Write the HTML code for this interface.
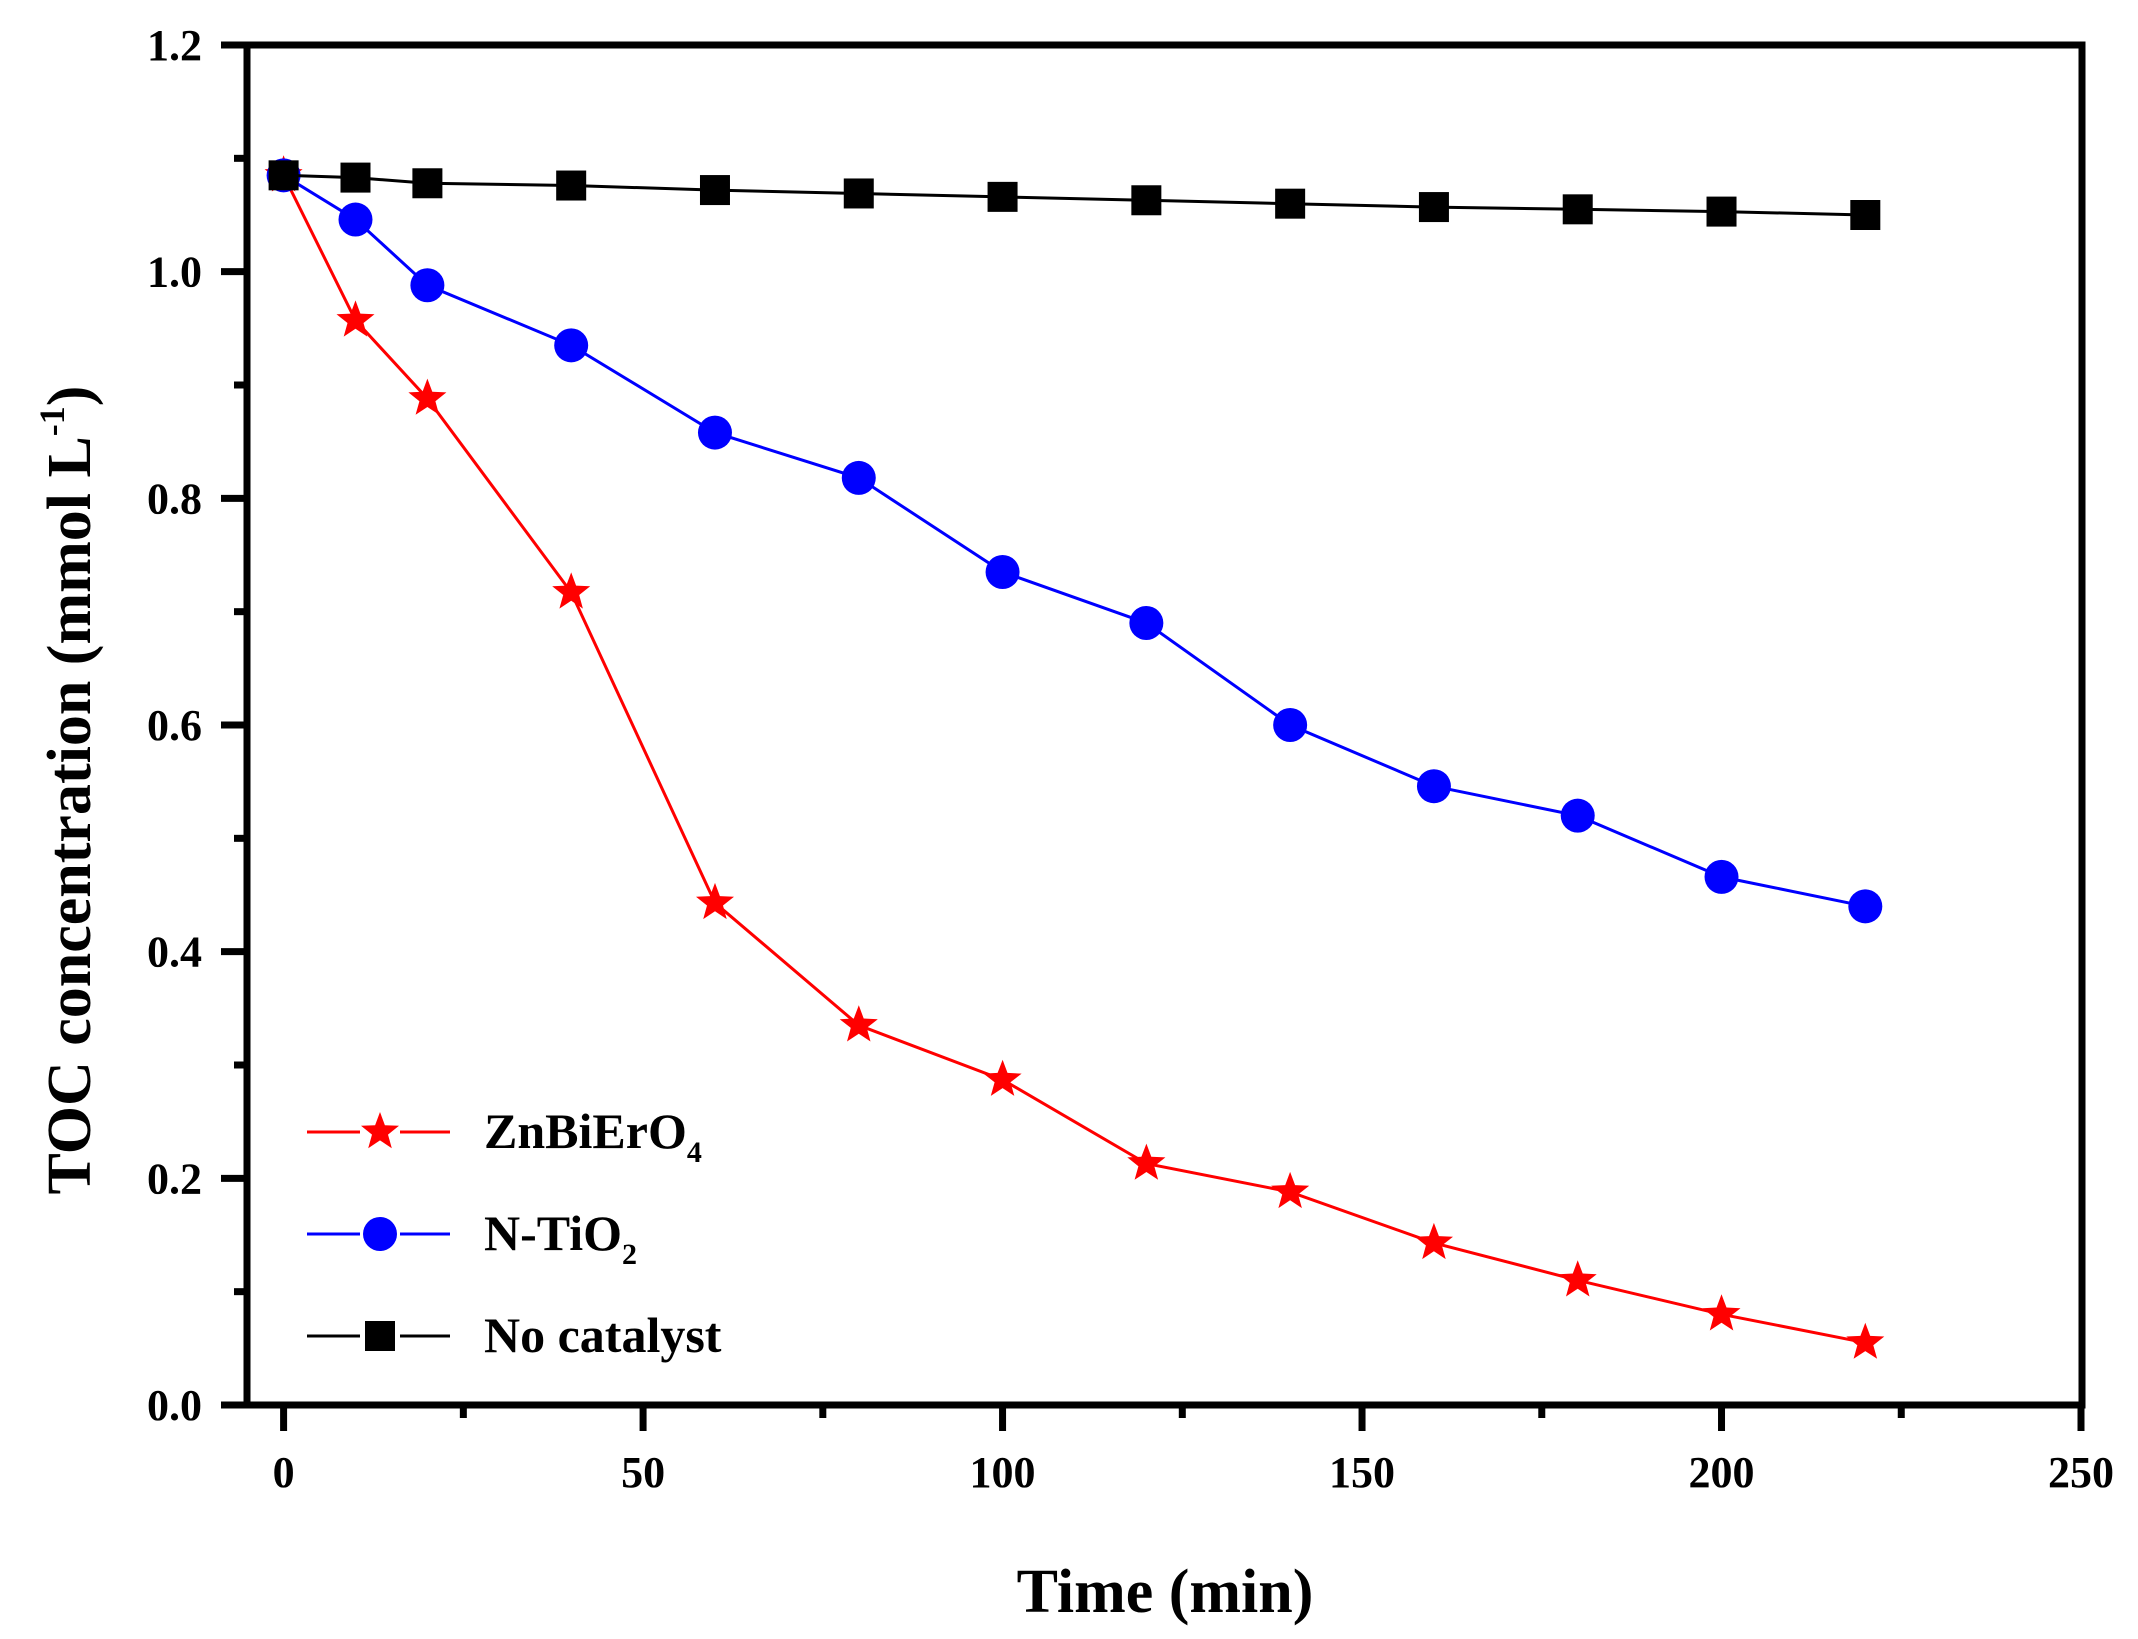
<!DOCTYPE html>
<html><head><meta charset="utf-8"><style>body{margin:0;background:#fff}svg{display:block}text{font-family:"Liberation Serif",serif;fill:#000}</style></head>
<body>
<svg id="chart" width="2138" height="1639" viewBox="0 0 2138 1639" xmlns="http://www.w3.org/2000/svg"></svg>
<script>
const xValues=[0,10,20,40,60,80,100,120,140,160,180,200,220];
const noCatalyst=[1.085,1.083,1.078,1.076,1.072,1.069,1.066,1.063,1.060,1.057,1.055,1.053,1.050];
const nTiO2=[1.085,1.046,0.988,0.935,0.858,0.818,0.735,0.690,0.600,0.546,0.520,0.466,0.440];
const znBiErO4=[1.085,0.957,0.888,0.717,0.443,0.335,0.287,0.213,0.188,0.143,0.110,0.080,0.055];
const xTicks=[0,50,100,150,200,250];
const yTicks=["0.0","0.2","0.4","0.6","0.8","1.0","1.2"];

const NS="http://www.w3.org/2000/svg";
const svg=document.getElementById('chart');
const L=247,R=2082,T=45,B=1405;
const X0=283.6,XS=(2081-283.6)/250;
function sx(v){return X0+v*XS;}
function sy(v){return B-(v/1.2)*(B-T);}
function mk(tag,attrs,parent){const e=document.createElementNS(NS,tag);for(const k in attrs)e.setAttribute(k,attrs[k]);(parent||svg).appendChild(e);return e;}

// axes box
const box=mk('rect',{x:L,y:T,width:R-L,height:B-T,fill:'none',stroke:'#000','stroke-width':7});



// y ticks
for(let i=0;i<=12;i++){
  const v=i*0.1,y=sy(v),major=i%2===0;
  const t=mk('line',{x1:L,x2:L-(major?26:13),y1:y,y2:y,stroke:'#000','stroke-width':7});
  
  
}
yTicks.forEach(s=>{
  const t=mk('text',{x:202,y:sy(parseFloat(s))+15,'font-size':44,'text-anchor':'end','font-weight':'bold'});
  t.textContent=s;
  
  
});
// x ticks
for(let v=0;v<=250;v+=25){
  const x=sx(v),major=v%50===0;
  const t=mk('line',{x1:x,x2:x,y1:B,y2:B+(major?26:13),stroke:'#000','stroke-width':7});
  
  
}
xTicks.forEach(v=>{
  const t=mk('text',{x:sx(v),y:1487,'font-size':44,'text-anchor':'middle','font-weight':'bold'});
  t.textContent=v;
  
  
});
// titles
const xt=mk('text',{x:1165,y:1612,'font-size':62,'font-weight':'bold','text-anchor':'middle'});
xt.textContent='Time (min)';


const yt=mk('text',{x:0,y:0,'font-size':62,'font-weight':'bold','text-anchor':'middle',transform:'translate(90,790) rotate(-90)'});
yt.innerHTML='TOC concentration (mmol L<tspan dy="-26" font-size="36">-1</tspan><tspan dy="26">)</tspan>';



function star(cx,cy,r,color,parent){
  let p=[];for(let i=0;i<10;i++){const a=-Math.PI/2+i*Math.PI/5,rr=i%2?r*0.42:r;p.push((cx+rr*Math.cos(a)).toFixed(1)+','+(cy+rr*Math.sin(a)).toFixed(1));}
  return mk('polygon',{points:p.join(' '),fill:color},parent);
}
function marker(type,cx,cy,g){
  if(type==='square')return mk('rect',{x:cx-15,y:cy-15,width:30,height:30,fill:'#000'},g);
  if(type==='circle')return mk('circle',{cx:cx,cy:cy,r:17,fill:'#0000ff'},g);
  return star(cx,cy,20,'#ff0000',g);
}
function series(vals,color,type,name){
  const g=mk('g',{});
  
  
  const pts=vals.map((v,i)=>sx(xValues[i]).toFixed(1)+','+sy(v).toFixed(1)).join(' ');
  const pl=mk('polyline',{points:pts,fill:'none',stroke:color,'stroke-width':3},g);
  
  
  vals.forEach((v,i)=>{const m=marker(type,sx(xValues[i]),sy(v),g);
    
    });
}
series(znBiErO4,'#ff0000','star','znbiero4-series');
series(nTiO2,'#0000ff','circle','n-tio2-series');
series(noCatalyst,'#000','square','no-catalyst-series');

// legend
const legend=[['ZnBiErO','4','#ff0000','star',1132],['N-TiO','2','#0000ff','circle',1234],['No catalyst','','#000','square',1336]];
legend.forEach(([lab,sub,c,type,y])=>{
  const g=mk('g',{});
  
  
  mk('line',{x1:307,x2:450,y1:y,y2:y,stroke:c,'stroke-width':3},g);
  mk('rect',{x:360,y:y-22,width:40,height:44,fill:'#fff'},g);
  marker(type,380,y,g);
  const t=mk('text',{x:484,y:y+16,'font-size':50,'font-weight':'bold'},g);
  t.innerHTML=lab+(sub?'<tspan dy="14" font-size="30">'+sub+'</tspan>':'');
});
</script>
</body></html>
